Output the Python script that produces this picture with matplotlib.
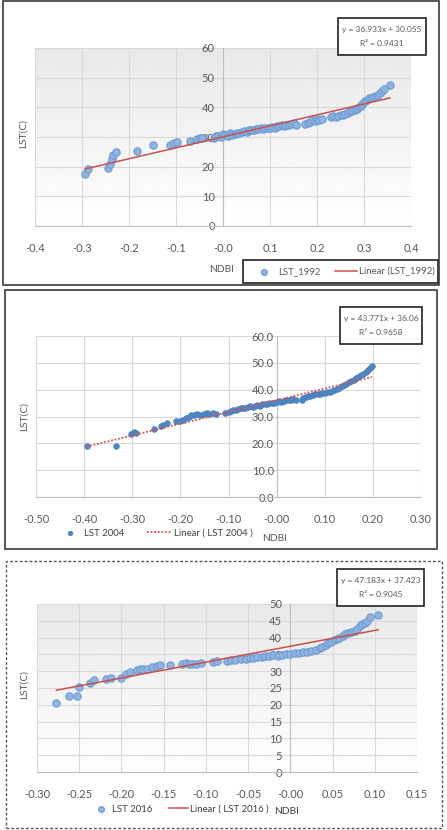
import numpy as np
import matplotlib
matplotlib.use("Agg")
import matplotlib.pyplot as plt
from matplotlib.patches import Rectangle

plt.rcParams['axes.unicode_minus'] = False
plt.rcParams['font.family'] = ['Lato', 'DejaVu Sans']

# ---------------- data ----------------
ndbi_1992 = [-0.293, -0.287, -0.245, -0.240, -0.237, -0.233, -0.228, -0.182, -0.148, -0.112,
             -0.105, -0.098, -0.070, -0.056, -0.050, -0.045, -0.020, -0.015, -0.010, -0.005,
             0.000, 0.005, 0.010, 0.015, 0.020, 0.025, 0.030, 0.035, 0.040, 0.045,
             0.050, 0.055, 0.060, 0.065, 0.070, 0.075, 0.080, 0.085, 0.090, 0.095,
             0.100, 0.105, 0.110, 0.115, 0.120, 0.125, 0.130, 0.135, 0.140, 0.145,
             0.150, 0.155, 0.175, 0.180, 0.185, 0.190, 0.195, 0.200, 0.205, 0.210,
             0.230, 0.235, 0.240, 0.245, 0.250, 0.255, 0.260, 0.265, 0.270, 0.275,
             0.280, 0.285, 0.290, 0.293, 0.296, 0.300, 0.303, 0.306, 0.310, 0.315,
             0.320, 0.325, 0.330, 0.335, 0.338, 0.342, 0.355]
lst_1992 = [17.5, 19.3, 19.6, 20.8, 22.6, 23.8, 24.8, 25.4, 27.3, 27.4,
            28.0, 28.3, 28.6, 29.4, 29.8, 29.6, 29.5, 30.2, 30.4, 30.0,
            31.0, 30.6, 30.4, 31.2, 30.8, 31.0, 31.5, 31.3, 31.8, 32.0,
            31.7, 32.2, 32.5, 32.3, 32.8, 32.6, 33.0, 32.7, 33.2, 33.0,
            33.2, 33.5, 33.1, 33.8, 33.6, 34.0, 33.8, 34.2, 34.0, 34.3,
            34.6, 34.2, 34.3, 34.8, 35.0, 35.6, 35.4, 36.2, 35.8, 36.0,
            36.6, 37.0, 36.8, 37.2, 37.5, 37.3, 37.8, 38.2, 38.6, 38.9,
            39.2, 39.6, 40.0, 40.6, 41.2, 41.8, 42.3, 42.6, 43.0, 43.2,
            43.5, 43.8, 44.2, 44.8, 45.5, 46.3, 47.6]

ndbi_2004 = [-0.395, -0.333, -0.302, -0.296, -0.293, -0.255, -0.240, -0.236, -0.228, -0.210,
             -0.200, -0.195, -0.188, -0.182, -0.178, -0.172, -0.166, -0.160, -0.150, -0.145,
             -0.140, -0.132, -0.125, -0.108, -0.100, -0.095, -0.090, -0.085, -0.080, -0.075,
             -0.070, -0.065, -0.060, -0.055, -0.050, -0.045, -0.040, -0.035, -0.030, -0.025,
             -0.020, -0.015, -0.010, -0.005, 0.000, 0.005, 0.010, 0.015, 0.020, 0.025,
             0.030, 0.035, 0.040, 0.052, 0.055, 0.060, 0.065, 0.070, 0.075, 0.080,
             0.085, 0.090, 0.095, 0.100, 0.105, 0.110, 0.115, 0.120, 0.125, 0.130,
             0.135, 0.140, 0.145, 0.150, 0.155, 0.160, 0.165, 0.170, 0.175, 0.180,
             0.185, 0.190, 0.195, 0.198]
lst_2004 = [19.0, 19.0, 23.6, 24.2, 23.9, 25.5, 26.6, 27.0, 27.5, 28.3,
            28.4, 28.8, 29.3, 29.8, 30.4, 30.6, 30.8, 30.5, 30.9, 31.2,
            31.0, 31.3, 31.0, 31.4, 31.8, 32.2, 32.6, 32.4, 32.9, 33.0,
            33.3, 33.1, 33.6, 33.8, 33.5, 34.0, 34.2, 34.0, 34.5, 34.7,
            34.6, 35.0, 35.2, 35.0, 35.4, 35.6, 35.5, 35.8, 36.0, 36.1,
            36.2, 36.4, 36.3, 36.2, 36.8, 37.2, 37.5, 37.8, 38.0, 38.2,
            38.4, 38.3, 38.6, 38.8, 39.0, 39.3, 39.6, 40.0, 40.3, 40.8,
            41.3, 41.8, 42.2, 42.8, 43.2, 43.7, 44.2, 44.8, 45.4, 46.0,
            46.6, 47.3, 48.0, 48.7]

ndbi_2016 = [-0.277, -0.262, -0.253, -0.250, -0.237, -0.232, -0.218, -0.212, -0.201, -0.195,
             -0.190, -0.182, -0.178, -0.174, -0.170, -0.164, -0.158, -0.154, -0.142, -0.128,
             -0.124, -0.120, -0.116, -0.112, -0.106, -0.092, -0.087, -0.075, -0.070, -0.065,
             -0.058, -0.052, -0.048, -0.044, -0.040, -0.034, -0.030, -0.025, -0.020, -0.015,
             -0.010, -0.005, 0.000, 0.005, 0.010, 0.015, 0.020, 0.025, 0.030, 0.035,
             0.038, 0.042, 0.045, 0.048, 0.052, 0.055, 0.058, 0.062, 0.065, 0.068,
             0.072, 0.076, 0.079, 0.082, 0.085, 0.088, 0.091, 0.094, 0.104]
lst_2016 = [20.6, 22.6, 22.6, 25.4, 26.4, 27.4, 27.6, 27.9, 28.1, 29.3,
            29.8, 30.5, 30.8, 30.6, 30.7, 31.2, 31.6, 31.8, 31.8, 32.1,
            32.3, 32.0, 32.2, 32.1, 32.5, 32.8, 32.9, 33.0, 33.2, 33.4,
            33.6, 33.7, 33.9, 34.0, 34.2, 34.3, 34.5, 34.6, 34.8, 34.6,
            34.9, 35.1, 35.2, 35.4, 35.3, 35.6, 35.8, 36.0, 36.3, 36.8,
            37.2, 37.8, 38.3, 38.8, 39.2, 39.6, 40.0, 40.5, 41.0, 41.4,
            41.7, 42.0, 42.6, 43.5, 44.0, 44.3, 45.0, 46.0, 46.8]

trend_slope = [36.933, 43.771, 47.183]
trend_intercept = [30.055, 36.06, 37.423]
trend_r2 = ["0.9431", "0.9658", "0.9045"]
years = ["1992", "2004", "2016"]

# ---------------- layout helpers ----------------
W, H = 447, 830
fig = plt.figure(figsize=(W / 100, H / 100), dpi=100)
fig.patch.set_facecolor('white')

FS = 7.4
LFS = 6.9
EFS = 6.0

def fx(px):
    return px / W

def fy(py):
    return 1 - py / H

def add_axes_px(l, t, r, b):
    return fig.add_axes([fx(l), fy(b), fx(r) - fx(l), (b - t) / H])

def rect_px(l, t, r, b, **kw):
    fig.patches.append(Rectangle((fx(l), fy(b)), fx(r) - fx(l), (b - t) / H,
                                 transform=fig.transFigure, **kw))

TXT = '#595959'
GRID = '#d9d9d9'
RED = '#c9504e'

def style_axes(ax, xlim, xticks, xfmt, ylim, yticks, yfmt, gradient=True, ypad=4):
    ax.set_xlim(*xlim)
    ax.set_ylim(*ylim)
    ax.set_xticks(xticks)
    ax.set_yticks(yticks)
    ax.set_xticklabels([xfmt.format(v) for v in xticks])
    ax.set_yticklabels([yfmt.format(v) for v in yticks])
    ax.grid(True, color=GRID, linewidth=0.8, zorder=0)
    ax.set_axisbelow(True)
    for s in ['top', 'right']:
        ax.spines[s].set_visible(False)
    ax.spines['left'].set_position(('data', 0))
    ax.spines['left'].set_color('#bfbfbf')
    ax.spines['bottom'].set_color('#bfbfbf')
    ax.spines['left'].set_linewidth(0.8)
    ax.spines['bottom'].set_linewidth(0.8)
    ax.tick_params(axis='both', length=0, labelsize=FS + 0.6, labelcolor=TXT)
    ax.tick_params(axis='x', pad=12.5)
    ax.tick_params(axis='y', pad=ypad)
    ax.set_facecolor('none')
    if gradient:
        grad = np.linspace(0.91, 1.0, 256).reshape(-1, 1)
        ax.imshow(grad, extent=[0, 1, 0, 1], transform=ax.transAxes, aspect='auto',
                  cmap='gray', vmin=0, vmax=1, zorder=-1, interpolation='bilinear')
        ax.set_xlim(*xlim)
        ax.set_ylim(*ylim)

def eq_box(l, t, r, b, i):
    rect_px(l, t, r, b, facecolor='white', edgecolor='#222222', linewidth=1.2, zorder=5)
    cx = fx((l + r) / 2)
    fig.text(cx, fy(t + (b - t) * 0.32), f"y = {trend_slope[i]}x + {trend_intercept[i]}",
             ha='center', va='center', fontsize=EFS, color=TXT, zorder=6)
    fig.text(cx, fy(t + (b - t) * 0.70), f"R² = {trend_r2[i]}",
             ha='center', va='center', fontsize=EFS, color=TXT, zorder=6)

def trend(ax, xs, i, **kw):
    x0, x1 = min(xs), max(xs)
    xx = np.array([x0, x1])
    return ax.plot(xx, trend_slope[i] * xx + trend_intercept[i], **kw)[0]

# ---------------- panel borders ----------------
rect_px(3, 1, 439, 285, facecolor='none', edgecolor='#3a3a3a', linewidth=1.2)
rect_px(5, 290, 437, 549, facecolor='none', edgecolor='#3a3a3a', linewidth=1.2)
rect_px(6, 561, 442, 828, facecolor='none', edgecolor='#555555', linewidth=1.0,
        linestyle=(0, (2, 1.5)))

# ---------------- panel 1 (1992) ----------------
ax1 = add_axes_px(35, 48, 411, 226)
style_axes(ax1, (-0.4, 0.4), np.round(np.arange(-0.4, 0.41, 0.1), 1), '{:.1f}',
           (0, 60), np.arange(0, 61, 10), '{:d}', gradient=True, ypad=6)
sc1 = ax1.scatter(ndbi_1992, lst_1992, s=28, color='#8fb4e0', edgecolors='#6d9bd3',
                  linewidths=0.8, zorder=3)
ln1 = trend(ax1, ndbi_1992, 0, color=RED, linewidth=1.1, zorder=4)
ax1.set_ylabel('LST(C)', fontsize=FS, color=TXT)
ax1.yaxis.set_label_coords(-0.019, 0.52)
ax1.set_xlabel('NDBI', fontsize=FS, color=TXT)
ax1.xaxis.set_label_coords(0.497, -0.219)
eq_box(338, 18, 426, 55, 0)
rect_px(243, 260, 438, 283, facecolor='white', edgecolor='#222222', linewidth=1.2, zorder=-1)
leg1 = ax1.legend([sc1, ln1], [f'LST_{years[0]}', f'Linear (LST_{years[0]})'],
                  loc='center', bbox_to_anchor=(fx(344), fy(271.5)),
                  bbox_transform=fig.transFigure, borderaxespad=0,
                  ncol=2, frameon=False,
                  fontsize=LFS, labelcolor=TXT, handlelength=2.3,
                  columnspacing=1.5, handletextpad=0.3, markerscale=0.8)

# ---------------- panel 2 (2004) ----------------
ax2 = add_axes_px(36, 336, 421, 497)
style_axes(ax2, (-0.5, 0.3), np.round(np.arange(-0.5, 0.31, 0.1), 2), '{:.2f}',
           (0, 60), np.arange(0, 61, 10), '{:.1f}', gradient=False, ypad=2)
sc2 = ax2.scatter(ndbi_2004, lst_2004, s=16, color='#4f86c6', edgecolors='#4a80c0',
                  linewidths=0.6, zorder=3)
ln2 = trend(ax2, ndbi_2004, 1, color='#d9534f', linewidth=1.3, linestyle=(0, (1, 1)), zorder=4)
ax2.set_ylabel('LST(C)', fontsize=FS, color=TXT)
ax2.yaxis.set_label_coords(-0.018, 0.5)
ax2.set_xlabel('NDBI', fontsize=FS, color=TXT)
ax2.xaxis.set_label_coords(0.62, -0.23)
eq_box(340, 307, 422, 344, 1)
leg2 = ax2.legend([sc2, ln2], [f'LST {years[1]}', f'Linear ( LST {years[1]} )'],
                  loc='center', bbox_to_anchor=(fx(155), fy(533)), bbox_transform=fig.transFigure,
                  ncol=2, frameon=False, fontsize=LFS, labelcolor='#404040', handlelength=2.6,
                  columnspacing=2.3, handletextpad=0.2, markerscale=0.8)

# ---------------- panel 3 (2016) ----------------
ax3 = add_axes_px(37, 604, 417, 772)
style_axes(ax3, (-0.30, 0.15), np.round(np.arange(-0.30, 0.151, 0.05), 2), '{:.2f}',
           (0, 50), np.arange(0, 51, 5), '{:d}', gradient=True, ypad=6)
sc3 = ax3.scatter(ndbi_2016, lst_2016, s=28, color='#8fb4e0', edgecolors='#6d9bd3',
                  linewidths=0.8, zorder=3)
ln3 = trend(ax3, ndbi_2016, 2, color=RED, linewidth=1.1, zorder=4)
ax3.set_ylabel('LST(C)', fontsize=FS, color=TXT)
ax3.yaxis.set_label_coords(-0.021, 0.52)
ax3.set_xlabel('NDBI', fontsize=FS, color='#404040')
ax3.xaxis.set_label_coords(0.658, -0.208)
eq_box(337, 569, 424, 606, 2)
leg3 = ax3.legend([sc3, ln3], [f'LST {years[2]}', f'Linear ( LST {years[2]} )'],
                  loc='center', bbox_to_anchor=(fx(180), fy(809)), bbox_transform=fig.transFigure,
                  ncol=2, frameon=False, fontsize=LFS, labelcolor='#404040', handlelength=2.0,
                  columnspacing=1.7, handletextpad=0.2, markerscale=0.8)

fig.savefig('out.png', dpi=100)
